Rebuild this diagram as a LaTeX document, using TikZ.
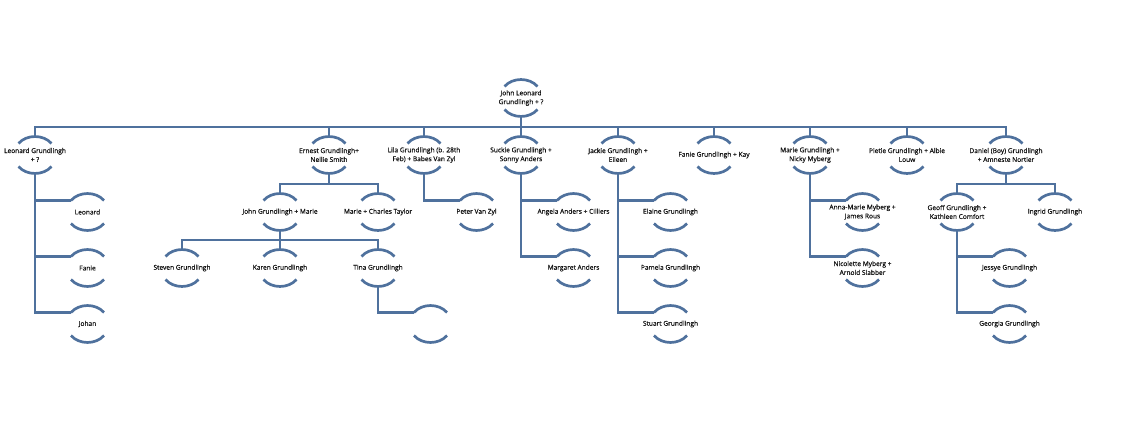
\documentclass[tikz,border=0pt]{standalone}
\usepackage{fontspec}
\setmainfont{Open Sans}
\newfontfamily\nodefont{Open Sans}[FakeBold=0.6]
\usetikzlibrary{calc}
\definecolor{linec}{RGB}{79,113,157}
\definecolor{txtc}{RGB}{20,20,20}
\tikzset{
  person/.style={inner sep=0pt, minimum width=33pt, minimum height=37pt, align=center,
    font=\nodefont\fontsize{6.6}{8.9}\selectfont, text=txtc},
  conn/.style={draw=linec, line width=2.3pt},
  arcline/.style={draw=linec, line width=2.7pt}
}
\begin{document}
\begin{tikzpicture}[x=1pt,y=-1pt]
\useasboundingbox (0,0) rectangle (1134,435);
% root
\node[person] (root) at (521,98) {John Leonard\\Grundlingh + ?};
% level 1
\node[person] (leo)   at (35,155)   {Leonard Grundlingh\\+ ?};
\node[person] (ern)   at (329,155)  {Ernest Grundlingh+\\Nellie Smith};
\node[person] (lila)  at (424,155)  {Lila Grundlingh (b. 28th\\Feb) + Babes Van Zyl};
\node[person] (suck)  at (521,155)  {Suckie Grundlingh +\\Sonny Anders};
\node[person] (jack)  at (618,155)  {Jackie Grundlingh +\\Eileen};
\node[person] (fanie) at (714,155)  {Fanie Grundlingh + Kay};
\node[person] (marie) at (810,155)  {Marie Grundlingh +\\Nicky Myberg};
\node[person] (piet)  at (907,155)  {Pietie Grundlingh + Albie\\Louw};
\node[person] (dan)   at (1006,155) {Daniel (Boy) Grundlingh\\+ Amneste Nortier};
% level 2+
\node[person] (leoA) at (87.5,212) {Leonard};
\node[person] (leoB) at (87.5,268) {Fanie};
\node[person] (leoC) at (87.5,324) {Johan};
\node[person] (john) at (280,212) {John Grundlingh + Marie};
\node[person] (mct)  at (378,212) {Marie + Charles Taylor};
\node[person] (steven) at (182,268) {Steven Grundlingh};
\node[person] (karen)  at (280,268) {Karen Grundlingh};
\node[person] (tina)   at (378,268) {Tina Grundlingh};
\node[person] (tinaA)  at (430.5,324) {};
\node[person] (peter)  at (476.5,212) {Peter Van Zyl};
\node[person] (angela) at (573.5,212) {Angela Anders + Cilliers};
\node[person] (margaret) at (573.5,268) {Margaret Anders};
\node[person] (elaine) at (670.5,212) {Elaine Grundlingh};
\node[person] (pamela) at (670.5,268) {Pamela Grundlingh};
\node[person] (stuart) at (670.5,324) {Stuart Grundlingh};
\node[person] (anna)   at (862.5,212) {Anna-Marie Myberg +\\James Rous};
\node[person] (nicol)  at (862.5,268) {Nicolette Myberg +\\Arnold Slabber};
\node[person] (geoff)  at (957,212) {Geoff Grundlingh +\\Kathleen Comfort};
\node[person] (ingrid) at (1055,212) {Ingrid Grundlingh};
\node[person] (jessye) at (1009.5,268) {Jessye Grundlingh};
\node[person] (georgia) at (1009.5,324) {Georgia Grundlingh};
% arcs
\foreach \n in {root,leo,ern,lila,suck,jack,fanie,marie,piet,dan,leoA,leoB,leoC,john,mct,steven,karen,tina,tinaA,peter,angela,margaret,elaine,pamela,stuart,anna,nicol,geoff,ingrid,jessye,georgia}{
  \draw[arcline] ($(\n)+(-16.5,-11.5)$) .. controls +(8,-9.3) and +(-8,-9.3) .. ($(\n)+(16.5,-11.5)$);
  \draw[arcline] ($(\n)+(-16.5,11.5)$) .. controls +(8,9.3) and +(-8,9.3) .. ($(\n)+(16.5,11.5)$);
}
% root to level 1
\coordinate (bus) at (521,127);
\draw[conn] (root.south) -- (bus);
\draw[conn] (leo.north) |- (bus) -| (dan.north);
\foreach \n in {ern,lila,suck,jack,fanie,marie,piet}{
  \draw[conn] (\n.north) -- (\n.north |- bus);
}
% side branches
\foreach \p/\c in {leo/leoA,leo/leoB,leo/leoC,lila/peter,suck/angela,suck/margaret,jack/elaine,jack/pamela,jack/stuart,marie/anna,marie/nicol,geoff/jessye,geoff/georgia,tina/tinaA}{
  \draw[conn] (\p.south) |- ($(\c)+(-16.5,-11.5)$);
}
% Ernest
\draw[conn] (ern.south) -- ++(0,10.5) coordinate (e1);
\draw[conn] (john.north) |- (e1) -| (mct.north);
% John
\draw[conn] (john.south) -- ++(0,9.5) coordinate (j1);
\draw[conn] (steven.north) |- (j1) -| (tina.north);
\draw[conn] (karen.north) -- (j1);
% Daniel
\draw[conn] (dan.south) -- ++(0,10.5) coordinate (d1);
\draw[conn] (geoff.north) |- (d1) -| (ingrid.north);
\end{tikzpicture}
\end{document}
